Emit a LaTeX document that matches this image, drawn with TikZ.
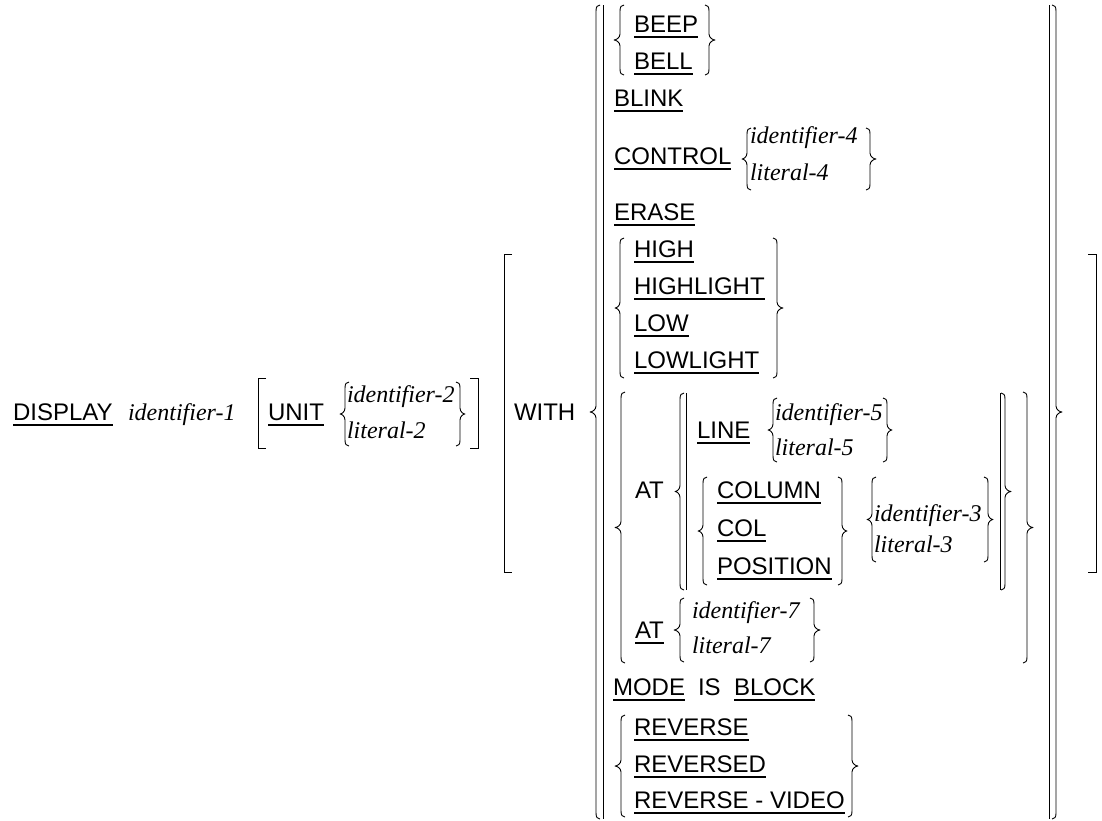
\documentclass[tikz,border=0pt]{standalone}
\usepackage{fontspec}
\newfontfamily\kwfont{Liberation Sans}
\newfontfamily\idfont{Liberation Serif}
\usetikzlibrary{calc}
\tikzset{
  kwd/.style={anchor=base west, inner sep=0pt, outer sep=0pt, font=\kwfont\fontsize{24}{28}\selectfont},
  idf/.style={anchor=base west, inner sep=0pt, outer sep=0pt, font=\idfont\itshape\fontsize{24}{28}\selectfont},
  uline/.style={line width=1.3pt},
  brc/.style={line width=0.9pt, line join=round},
}
% underlined keyword
\newcommand\kw[4]{\node[kwd] (#1) at (#2,#3) {#4};\draw[uline] ($(#1.base west)+(0,5)$) -- ($(#1.base east)+(0,5)$);}
% plain keyword
\newcommand\pk[4]{\node[kwd] (#1) at (#2,#3) {#4};}
% italic operand
\newcommand\op[4]{\node[idf] (#1) at (#2,#3) {#4};}
% brace: line x, tip x, top, bottom, hook dx
\newcommand\brc[5]{\pgfmathsetmacro\brmid{(#3+#4)/2}%
  \draw[brc] ({#1+#5},#3) .. controls ({#1+0.3*#5},#3) and (#1,{#3+2}) .. (#1,{#3+6})
    -- (#1,{\brmid-6}) .. controls (#1,{\brmid-2}) and ({0.3*#1+0.7*#2},\brmid) .. (#2,\brmid)
    .. controls ({0.3*#1+0.7*#2},\brmid) and (#1,{\brmid+2}) .. (#1,{\brmid+6})
    -- (#1,{#4-6}) .. controls (#1,{#4-2}) and ({#1+0.3*#5},#4) .. ({#1+#5},#4);}
% bracket: line x, serif dx, top, bottom
\newcommand\bkt[4]{\draw[brc, line join=miter] ({#1+#2},#3) -- (#1,#3) -- (#1,#4) -- ({#1+#2},#4);}
% vertical bar
\newcommand\vbar[3]{\draw[brc] (#1,#2) -- (#1,#3);}
\begin{document}
\begin{tikzpicture}[x=1pt,y=-1pt]
\fill[white] (0,0) rectangle (1102,820);
\useasboundingbox (0,0) rectangle (1102,820);
% DISPLAY line
\kw{display}{13}{420}{DISPLAY}
\op{id1}{128}{420}{identifier-1}
\bkt{258}{8}{378}{448}
\kw{unit}{268}{420}{UNIT}
\brc{345}{340}{382}{446}{4}
\op{id2}{347}{402}{identifier-2}
\op{lit2}{347}{438}{literal-2}
\brc{460}{465}{382}{446}{-4}
\bkt{478}{-8}{378}{448}
% WITH bracket
\bkt{504}{8}{254}{572}
\pk{with}{514}{420}{WITH}
\bkt{1096}{-8}{254}{572}
% big group
\brc{596}{590}{5}{819}{4}
\vbar{603}{5}{819}
\vbar{1049}{5}{819}
\brc{1056}{1062}{5}{819}{-4}
% BEEP / BELL
\brc{620}{614}{5}{75}{4}
\kw{beep}{634}{32}{BEEP}
\kw{bell}{634}{69}{BELL}
\brc{709}{715}{5}{75}{-4}
\kw{blink}{614}{106}{BLINK}
% CONTROL
\kw{control}{614}{164}{CONTROL}
\brc{747}{742}{128}{190}{4}
\op{id4}{750}{143}{identifier-4}
\op{lit4}{750}{180}{literal-4}
\brc{870}{876}{128}{190}{-4}
\kw{erase}{614}{220}{ERASE}
% HIGH group
\brc{620}{615}{238}{378}{4}
\kw{high}{634}{257}{HIGH}
\kw{highlight}{634}{294}{HIGHLIGHT}
\kw{low}{634}{331}{LOW}
\kw{lowlight}{634}{368}{LOWLIGHT}
\brc{777}{783}{238}{378}{-4}
% AT group
\brc{621}{615}{392}{663}{4}
\brc{1027}{1033}{392}{663}{-4}
\pk{at1}{635}{498}{AT}
\brc{680}{675}{393}{590}{4}
\vbar{686}{393}{590}
\vbar{1000}{393}{590}
\brc{1005}{1011}{393}{590}{-4}
\kw{line}{697}{438}{LINE}
\brc{773}{768}{398}{462}{4}
\op{id5}{775}{420}{identifier-5}
\op{lit5}{775}{455}{literal-5}
\brc{887}{892}{398}{462}{-4}
\brc{703}{698}{477}{585}{4}
\kw{column}{717}{498}{COLUMN}
\kw{col}{717}{536}{COL}
\kw{position}{717}{574}{POSITION}
\brc{842}{847}{477}{585}{-4}
\brc{872}{867}{477}{562}{4}
\op{id3}{874}{521}{identifier-3}
\op{lit3}{874}{552}{literal-3}
\brc{988}{993}{477}{562}{-4}
\kw{at2}{635}{638}{AT}
\brc{680}{674}{598}{662}{4}
\op{id7}{692}{618}{identifier-7}
\op{lit7}{692}{653}{literal-7}
\brc{814}{820}{598}{662}{-4}
% MODE IS BLOCK
\kw{mode}{613}{695}{MODE}
\pk{is}{698}{695}{IS}
\kw{block}{734}{695}{BLOCK}
% REVERSE group
\brc{621}{615}{715}{817}{4}
\kw{reverse}{634}{735}{REVERSE}
\kw{reversed}{634}{772}{REVERSED}
\kw{revvideo}{634}{808}{REVERSE - VIDEO}
\brc{852}{858}{715}{817}{-4}
\end{tikzpicture}
\end{document}
